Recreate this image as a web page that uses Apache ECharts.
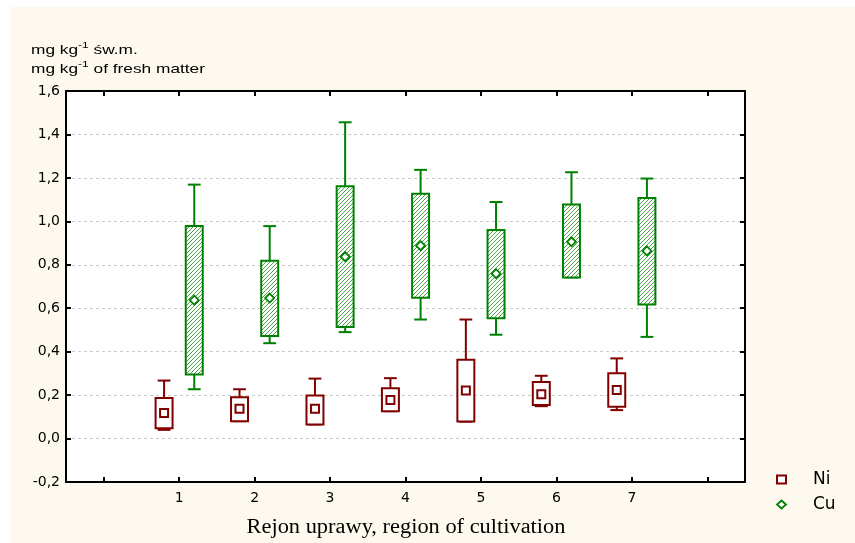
<!DOCTYPE html>
<html>
<head>
<meta charset="utf-8">
<script src="https://cdn.jsdelivr.net/npm/echarts@6/dist/echarts.min.js"></script>
<style>
  html, body { margin: 0; padding: 0; background: #ffffff; }
  #wrap { position: relative; width: 855px; height: 543px; }
  #paper { position: absolute; left: 10px; top: 7px; right: 0; bottom: 0; background: #fdf9ee; }
  #chart { position: absolute; left: 0; top: 0; width: 855px; height: 543px; }
</style>
</head>
<body>
<div id="wrap">
  <div id="paper"></div>
  <div id="chart"></div>
</div>
<script>
// ── Data ──────────────────────────────────────────────────────────────
const regions = ['1', '2', '3', '4', '5', '6', '7'];
const xLabels = [''].concat(regions, ['']);   // empty slots left/right of the regions

// Ni (red boxes)
const niWhiskerLow  = [0.040, 0.080, 0.065, 0.126, 0.078, 0.149, 0.131];
const niBoxLow      = [0.048, 0.080, 0.065, 0.126, 0.078, 0.155, 0.146];
const niMean        = [0.118, 0.137, 0.137, 0.178, 0.221, 0.204, 0.223];
const niBoxHigh     = [0.187, 0.190, 0.198, 0.232, 0.363, 0.260, 0.301];
const niWhiskerHigh = [0.267, 0.227, 0.276, 0.278, 0.548, 0.289, 0.369];

// Cu (green hatched boxes)
const cuWhiskerLow  = [0.227, 0.439, 0.490, 0.548, 0.478, 0.742, 0.468];
const cuBoxLow      = [0.295, 0.472, 0.513, 0.648, 0.554, 0.742, 0.617];
const cuMean        = [0.637, 0.647, 0.837, 0.888, 0.759, 0.906, 0.864];
const cuBoxHigh     = [0.978, 0.819, 1.162, 1.127, 0.960, 1.078, 1.107];
const cuWhiskerHigh = [1.169, 0.978, 1.456, 1.237, 1.089, 1.226, 1.197];

const yTicks = { min: -0.2, max: 1.6, interval: 0.2 };

// ── Style ─────────────────────────────────────────────────────────────
const fontSans  = 'Liberation Sans, Arial, sans-serif';
const fontWide  = 'DejaVu Sans, sans-serif';
const fontSerif = 'Liberation Serif, Times New Roman, serif';
const niColor   = '#800000';
const cuColor   = '#008000';
const gridColor = '#c8c8c8';

// hatch pattern for the Cu boxes
const hatch = document.createElement('canvas');
hatch.width = 4; hatch.height = 4;
(() => {
  const c = hatch.getContext('2d');
  c.fillStyle = '#ffffff';
  c.fillRect(0, 0, 4, 4);
  c.strokeStyle = '#4ea24e';
  c.lineWidth = 1;
  c.beginPath();
  c.moveTo(0, 4); c.lineTo(4, 0);
  c.moveTo(-1, 1); c.lineTo(1, -1);
  c.moveTo(3, 5); c.lineTo(5, 3);
  c.stroke();
})();

function rows(wl, bl, m, bh, wh) {
  return regions.map((r, i) => [i + 1, wl[i], bl[i], m[i], bh[i], wh[i]]);
}

function boxRenderer(side, color, fill, marker) {
  return function (params, api) {
    const xi = api.value(0);
    const band = api.size([1, 0])[0];
    const cx = api.coord([xi, api.value(3)])[0] + side * 0.2 * band;
    const y = k => api.coord([xi, api.value(k)])[1];
    const yWL = y(1), yBL = y(2), yM = y(3), yBH = y(4), yWH = y(5);
    const bw = band * 0.225;
    const cap = band * 0.17;
    const st = { stroke: color, lineWidth: 2, fill: null };
    const children = [
      { type: 'line', shape: { x1: cx, y1: yWH, x2: cx, y2: yWL }, style: st },
      { type: 'line', shape: { x1: cx - cap / 2, y1: yWH, x2: cx + cap / 2, y2: yWH }, style: st },
      { type: 'line', shape: { x1: cx - cap / 2, y1: yWL, x2: cx + cap / 2, y2: yWL }, style: st },
      { type: 'rect', shape: { x: cx - bw / 2, y: yBH, width: bw, height: yBL - yBH },
        style: { fill: fill, stroke: color, lineWidth: 2 } },
    ];
    if (marker === 'square') {
      children.push({ type: 'rect', shape: { x: cx - 4, y: yM - 4, width: 8, height: 8 },
        style: { fill: '#ffffff', stroke: color, lineWidth: 2 } });
    } else {
      const r = 4.5;
      children.push({ type: 'polygon',
        shape: { points: [[cx, yM - r], [cx + r, yM], [cx, yM + r], [cx - r, yM]] },
        style: { fill: '#ffffff', stroke: color, lineWidth: 1.8 } });
    }
    return { type: 'group', children: children };
  };
}

const fmt = v => v.toFixed(1).replace('.', ',');
const frameLine = { onZero: false, lineStyle: { color: '#000', width: 2 } };
const frameTick = { show: true, inside: true, length: 5, alignWithLabel: true, lineStyle: { color: '#000', width: 2 } };

const chart = echarts.init(document.getElementById('chart'), null, { renderer: 'canvas' });
chart.setOption({
  animation: false,
  backgroundColor: 'transparent',
  grid: { left: 66, right: 110, top: 91, bottom: 61, show: true, backgroundColor: '#ffffff', borderWidth: 0 },
  xAxis: [
    {
      type: 'category', data: xLabels, position: 'bottom',
      axisLine: frameLine, axisTick: frameTick,
      axisLabel: { margin: 9, fontSize: 14, fontFamily: fontWide, color: '#000', interval: 0 },
      splitLine: { show: false },
    },
    {
      type: 'category', data: xLabels, position: 'top',
      axisLine: frameLine, axisTick: frameTick,
      axisLabel: { show: false },
      splitLine: { show: false },
    },
  ],
  yAxis: [
    {
      type: 'value', position: 'left', min: yTicks.min, max: yTicks.max, interval: yTicks.interval,
      axisLine: Object.assign({ show: true }, frameLine), axisTick: frameTick,
      axisLabel: { margin: 6, fontSize: 14, fontFamily: fontWide, color: '#000', formatter: fmt },
      splitLine: { show: true, lineStyle: { color: gridColor, type: [3, 3], width: 1 } },
    },
    {
      type: 'value', position: 'right', min: yTicks.min, max: yTicks.max, interval: yTicks.interval,
      axisLine: Object.assign({ show: true }, frameLine), axisTick: frameTick,
      axisLabel: { show: false },
      splitLine: { show: false },
    },
  ],
  legend: {
    orient: 'vertical', left: 771, top: 466, itemGap: 8,
    itemWidth: 9, itemHeight: 8,
    textStyle: { fontSize: 17, fontFamily: fontWide, color: '#000', padding: [0, 0, 0, 22] },
    data: [
      { name: 'Ni', icon: 'rect', itemStyle: { color: '#ffffff', borderColor: niColor, borderWidth: 2 } },
      { name: 'Cu', icon: 'diamond', itemStyle: { color: '#ffffff', borderColor: cuColor, borderWidth: 1.8 } },
    ],
  },
  graphic: [
    {
      type: 'text', x: 31, y: 41, scaleX: 1.33,
      style: {
        text: 'mg kg{sup|-1} św.m.\nmg kg{sup|-1} of fresh matter',
        font: '13px ' + fontSans, fill: '#000', lineHeight: 19,
        rich: { sup: { fontSize: 9, fontFamily: fontSans, verticalAlign: 'top', lineHeight: 19, padding: [0, 0, 6, 0] } },
      },
    },
    {
      type: 'text', x: 406, y: 528, scaleX: 1.12,
      style: {
        text: 'Rejon uprawy, region of cultivation',
        font: '20px ' + fontSerif, fill: '#000', align: 'center', verticalAlign: 'middle',
      },
    },
  ],
  series: [
    {
      name: 'Ni', type: 'custom', xAxisIndex: 0, yAxisIndex: 0,
      data: rows(niWhiskerLow, niBoxLow, niMean, niBoxHigh, niWhiskerHigh),
      encode: { x: 0, y: [1, 2, 3, 4, 5] },
      itemStyle: { color: niColor },
      renderItem: boxRenderer(-1, niColor, '#ffffff', 'square'),
    },
    {
      name: 'Cu', type: 'custom', xAxisIndex: 0, yAxisIndex: 0,
      data: rows(cuWhiskerLow, cuBoxLow, cuMean, cuBoxHigh, cuWhiskerHigh),
      encode: { x: 0, y: [1, 2, 3, 4, 5] },
      itemStyle: { color: cuColor },
      renderItem: boxRenderer(1, cuColor, { image: hatch, repeat: 'repeat' }, 'diamond'),
    },
  ],
});
</script>
</body>
</html>
